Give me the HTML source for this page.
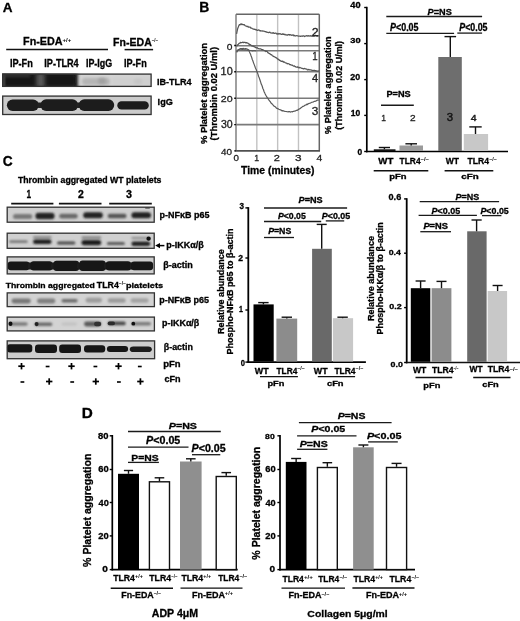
<!DOCTYPE html>
<html><head><meta charset="utf-8"><style>
html,body{margin:0;padding:0;background:#fff;}
svg{display:block;will-change:transform;}
text{font-family:"Liberation Sans", sans-serif;}
</style></head><body>
<svg width="520" height="621" viewBox="0 0 520 621">
<defs><filter id="f5" x="-50%" y="-100%" width="200%" height="300%"><feGaussianBlur stdDeviation="0.5"/></filter><filter id="f6" x="-50%" y="-100%" width="200%" height="300%"><feGaussianBlur stdDeviation="0.6"/></filter><filter id="f7" x="-50%" y="-100%" width="200%" height="300%"><feGaussianBlur stdDeviation="0.7"/></filter><filter id="f8" x="-50%" y="-100%" width="200%" height="300%"><feGaussianBlur stdDeviation="0.8"/></filter><filter id="f10" x="-50%" y="-100%" width="200%" height="300%"><feGaussianBlur stdDeviation="1.0"/></filter><filter id="f12" x="-50%" y="-100%" width="200%" height="300%"><feGaussianBlur stdDeviation="1.2"/></filter><filter id="f13" x="-50%" y="-100%" width="200%" height="300%"><feGaussianBlur stdDeviation="1.3"/></filter><filter id="f15" x="-50%" y="-100%" width="200%" height="300%"><feGaussianBlur stdDeviation="1.5"/></filter><filter id="f20" x="-50%" y="-100%" width="200%" height="300%"><feGaussianBlur stdDeviation="2.0"/></filter><clipPath id="c0"><rect x="2.10" y="73.50" width="149.60" height="13.50"/></clipPath><clipPath id="c1"><rect x="2.10" y="95.50" width="149.60" height="19.60"/></clipPath><clipPath id="c2"><rect x="6.60" y="206.60" width="148.20" height="16.20"/></clipPath><clipPath id="c3"><rect x="6.60" y="232.60" width="148.20" height="16.30"/></clipPath><clipPath id="c4"><rect x="6.60" y="256.30" width="148.20" height="18.20"/></clipPath><clipPath id="c5"><rect x="6.60" y="292.30" width="148.40" height="14.90"/></clipPath><clipPath id="c6"><rect x="6.60" y="316.50" width="148.40" height="15.00"/></clipPath><clipPath id="c7"><rect x="6.60" y="340.30" width="148.60" height="19.00"/></clipPath></defs>
<rect width="520" height="621" fill="#fff"/>
<g clip-path="url(#c0)">
<rect x="2.10" y="73.50" width="149.60" height="13.50" fill="#d4d4d4"/>
<rect x="0" y="72" width="78" height="17" fill="#222" filter="url(#f15)"/>
<rect x="3.00" y="75.00" width="34.50" height="10.80" rx="2.00" ry="2.00" fill="#121212" filter="url(#f12)"/>
<rect x="43.50" y="75.00" width="31.50" height="10.80" rx="3.00" ry="3.00" fill="#141414" filter="url(#f12)"/>
<rect x="36.50" y="73.00" width="8.00" height="15.00" rx="0.00" ry="0.00" fill="#585858" filter="url(#f20)"/>
<rect x="2.00" y="73.00" width="3.00" height="15.00" rx="0.00" ry="0.00" fill="#4a4a4a" filter="url(#f10)"/>
<rect x="3.00" y="74.00" width="27.00" height="3.00" rx="0.00" ry="0.00" fill="#333" filter="url(#f15)"/>
<rect x="82.00" y="78.00" width="28.00" height="7.00" rx="3.00" ry="3.00" fill="#b4b4b4" filter="url(#f15)"/>
<rect x="98.00" y="78.00" width="8.00" height="6.00" rx="3.00" ry="3.00" fill="#a0a0a0" filter="url(#f15)"/>
<rect x="112.00" y="77.00" width="40.00" height="9.00" rx="3.00" ry="3.00" fill="#cfcfcf" filter="url(#f15)"/>
<rect x="134.00" y="79.00" width="8.00" height="5.00" rx="2.00" ry="2.00" fill="#c4c4c4" filter="url(#f15)"/>
</g>
<rect x="2.70" y="74.10" width="148.40" height="12.30" fill="none" stroke="#333" stroke-width="1.3"/>
<g clip-path="url(#c1)">
<rect x="2.10" y="95.50" width="149.60" height="19.60" fill="#cbcbcb"/>
<rect x="6.90" y="99.60" width="31.90" height="11.30" rx="5.65" ry="5.65" fill="#1a1a1a" filter="url(#f5)"/>
<rect x="37.50" y="102.50" width="4.50" height="5.50" rx="1.00" ry="1.00" fill="#242424" filter="url(#f6)"/>
<rect x="40.40" y="99.30" width="37.80" height="11.60" rx="5.80" ry="5.80" fill="#1a1a1a" filter="url(#f5)"/>
<rect x="76.50" y="102.50" width="4.00" height="5.50" rx="1.00" ry="1.00" fill="#242424" filter="url(#f6)"/>
<rect x="78.60" y="99.30" width="35.60" height="11.60" rx="5.80" ry="5.80" fill="#1a1a1a" filter="url(#f5)"/>
<rect x="117.30" y="101.20" width="31.50" height="8.40" rx="4.20" ry="4.20" fill="#1a1a1a" filter="url(#f5)"/>
</g>
<rect x="2.70" y="96.10" width="148.40" height="18.40" fill="none" stroke="#333" stroke-width="1.3"/>
<g clip-path="url(#c2)">
<rect x="6.60" y="206.60" width="148.20" height="16.20" fill="#cfcfcf"/>
<rect x="13.00" y="214.00" width="19.30" height="5.00" rx="2.50" ry="2.50" fill="#787878" filter="url(#f10)"/>
<rect x="35.40" y="212.80" width="19.20" height="6.50" rx="3.25" ry="3.25" fill="#202020" filter="url(#f10)"/>
<rect x="59.20" y="213.80" width="18.50" height="4.80" rx="2.40" ry="2.40" fill="#686868" filter="url(#f10)"/>
<rect x="83.20" y="212.30" width="19.60" height="5.90" rx="2.95" ry="2.95" fill="#222" filter="url(#f10)"/>
<rect x="107.70" y="213.80" width="18.80" height="4.40" rx="2.20" ry="2.20" fill="#555" filter="url(#f10)"/>
<rect x="131.40" y="212.30" width="19.60" height="5.90" rx="2.95" ry="2.95" fill="#222" filter="url(#f10)"/>
<rect x="145.00" y="207.00" width="5.00" height="2.00" rx="1.00" ry="1.00" fill="#777" filter="url(#f6)"/>
</g>
<rect x="7.20" y="207.20" width="147.00" height="15.00" fill="none" stroke="#333" stroke-width="1.3"/>
<g clip-path="url(#c3)">
<rect x="6.60" y="232.60" width="148.20" height="16.30" fill="#d0d0d0"/>
<rect x="9.20" y="240.30" width="18.50" height="2.70" rx="1.35" ry="1.35" fill="#7a7a7a" filter="url(#f8)"/>
<rect x="33.00" y="236.00" width="18.50" height="2.40" rx="1.20" ry="1.20" fill="#8a8a8a" filter="url(#f8)"/>
<rect x="33.00" y="239.60" width="18.50" height="4.40" rx="2.20" ry="2.20" fill="#1c1c1c" filter="url(#f8)"/>
<rect x="57.00" y="241.40" width="18.40" height="3.20" rx="1.60" ry="1.60" fill="#484848" filter="url(#f8)"/>
<rect x="81.50" y="236.50" width="19.70" height="2.30" rx="1.15" ry="1.15" fill="#7a7a7a" filter="url(#f8)"/>
<rect x="81.50" y="240.00" width="19.70" height="5.20" rx="2.60" ry="2.60" fill="#1c1c1c" filter="url(#f8)"/>
<rect x="106.90" y="242.00" width="18.00" height="3.00" rx="1.50" ry="1.50" fill="#5a5a5a" filter="url(#f8)"/>
<rect x="131.40" y="237.00" width="18.80" height="2.00" rx="1.00" ry="1.00" fill="#8a8a8a" filter="url(#f8)"/>
<rect x="131.40" y="241.60" width="18.80" height="4.40" rx="2.20" ry="2.20" fill="#222" filter="url(#f8)"/>
<rect x="146.40" y="236.60" width="4.40" height="4.20" rx="2.10" ry="2.10" fill="#111" filter="url(#f5)"/>
</g>
<rect x="7.20" y="233.20" width="147.00" height="15.10" fill="none" stroke="#333" stroke-width="1.3"/>
<g clip-path="url(#c4)">
<rect x="6.60" y="256.30" width="148.20" height="18.20" fill="#cdcdcd"/>
<rect x="7.70" y="261.50" width="21.80" height="8.70" rx="3.00" ry="3.00" fill="#141414" filter="url(#f6)"/>
<rect x="28.00" y="262.50" width="4.00" height="7.00" rx="1.00" ry="1.00" fill="#1a1a1a" filter="url(#f6)"/>
<rect x="30.50" y="261.30" width="22.00" height="9.20" rx="3.00" ry="3.00" fill="#141414" filter="url(#f6)"/>
<rect x="51.00" y="262.50" width="4.00" height="7.00" rx="1.00" ry="1.00" fill="#1a1a1a" filter="url(#f6)"/>
<rect x="53.50" y="260.80" width="25.50" height="10.20" rx="3.00" ry="3.00" fill="#141414" filter="url(#f6)"/>
<rect x="77.00" y="262.50" width="4.00" height="7.00" rx="1.00" ry="1.00" fill="#1a1a1a" filter="url(#f6)"/>
<rect x="79.50" y="260.60" width="26.00" height="10.40" rx="3.00" ry="3.00" fill="#141414" filter="url(#f6)"/>
<rect x="104.00" y="262.50" width="4.00" height="7.00" rx="1.00" ry="1.00" fill="#1a1a1a" filter="url(#f6)"/>
<rect x="106.00" y="261.30" width="25.00" height="9.20" rx="3.00" ry="3.00" fill="#141414" filter="url(#f6)"/>
<rect x="129.50" y="262.50" width="3.50" height="7.00" rx="1.00" ry="1.00" fill="#1a1a1a" filter="url(#f6)"/>
<rect x="131.00" y="261.50" width="22.10" height="8.70" rx="3.00" ry="3.00" fill="#161616" filter="url(#f6)"/>
</g>
<rect x="7.20" y="256.90" width="147.00" height="17.00" fill="none" stroke="#333" stroke-width="1.3"/>
<g clip-path="url(#c5)">
<rect x="6.60" y="292.30" width="148.40" height="14.90" fill="#d3d3d3"/>
<rect x="11.50" y="298.50" width="19.30" height="4.90" rx="2.45" ry="2.45" fill="#777" filter="url(#f10)"/>
<rect x="37.00" y="298.50" width="18.40" height="4.90" rx="2.45" ry="2.45" fill="#7e7e7e" filter="url(#f10)"/>
<rect x="61.50" y="299.00" width="16.20" height="3.40" rx="1.70" ry="1.70" fill="#6a6a6a" filter="url(#f10)"/>
<rect x="85.60" y="297.80" width="16.40" height="4.90" rx="2.45" ry="2.45" fill="#9c9c9c" filter="url(#f10)"/>
<rect x="107.70" y="298.20" width="18.00" height="4.50" rx="2.25" ry="2.25" fill="#9a9a9a" filter="url(#f10)"/>
<rect x="130.60" y="298.20" width="18.00" height="4.50" rx="2.25" ry="2.25" fill="#a2a2a2" filter="url(#f10)"/>
</g>
<rect x="7.20" y="292.90" width="147.20" height="13.70" fill="none" stroke="#333" stroke-width="1.3"/>
<g clip-path="url(#c6)">
<rect x="6.60" y="316.50" width="148.40" height="15.00" fill="#d3d3d3"/>
<rect x="8.50" y="322.20" width="19.20" height="3.50" rx="1.75" ry="1.75" fill="#7a7a7a" filter="url(#f8)"/>
<rect x="8.50" y="321.60" width="4.00" height="4.40" rx="2.20" ry="2.20" fill="#111" filter="url(#f5)"/>
<rect x="34.60" y="322.50" width="17.70" height="3.50" rx="1.75" ry="1.75" fill="#6a6a6a" filter="url(#f8)"/>
<rect x="34.60" y="322.00" width="4.00" height="4.20" rx="2.10" ry="2.10" fill="#222" filter="url(#f5)"/>
<rect x="61.50" y="322.50" width="15.50" height="3.00" rx="1.50" ry="1.50" fill="#c2c2c2" filter="url(#f8)"/>
<rect x="84.00" y="321.50" width="17.20" height="4.90" rx="2.45" ry="2.45" fill="#5a5a5a" filter="url(#f8)"/>
<rect x="94.00" y="321.80" width="7.20" height="4.40" rx="2.20" ry="2.20" fill="#333" filter="url(#f6)"/>
<rect x="107.70" y="321.50" width="18.00" height="3.80" rx="1.90" ry="1.90" fill="#4a4a4a" filter="url(#f8)"/>
<rect x="107.70" y="321.60" width="7.30" height="3.60" rx="1.80" ry="1.80" fill="#2a2a2a" filter="url(#f6)"/>
<rect x="131.40" y="322.00" width="19.60" height="3.50" rx="1.75" ry="1.75" fill="#7a7a7a" filter="url(#f8)"/>
<rect x="131.40" y="321.80" width="3.80" height="3.80" rx="1.90" ry="1.90" fill="#111" filter="url(#f5)"/>
</g>
<rect x="7.20" y="317.10" width="147.20" height="13.80" fill="none" stroke="#333" stroke-width="1.3"/>
<g clip-path="url(#c7)">
<rect x="6.60" y="340.30" width="148.60" height="19.00" fill="#cdcdcd"/>
<rect x="6.90" y="344.20" width="25.40" height="8.40" rx="3.00" ry="3.00" fill="#151515" filter="url(#f6)"/>
<rect x="35.00" y="344.60" width="22.00" height="8.40" rx="3.00" ry="3.00" fill="#151515" filter="url(#f6)"/>
<rect x="59.20" y="344.60" width="21.80" height="8.40" rx="3.00" ry="3.00" fill="#151515" filter="url(#f6)"/>
<rect x="84.00" y="345.20" width="21.20" height="7.40" rx="3.00" ry="3.00" fill="#151515" filter="url(#f6)"/>
<rect x="106.90" y="346.00" width="21.20" height="6.10" rx="3.00" ry="3.00" fill="#181818" filter="url(#f6)"/>
<rect x="129.80" y="346.50" width="22.00" height="5.60" rx="3.50" ry="2.80" fill="#1c1c1c" filter="url(#f6)"/>
</g>
<rect x="7.20" y="340.90" width="147.40" height="17.80" fill="none" stroke="#333" stroke-width="1.3"/>
<text x="2.66" y="11.80" font-size="13.623" font-weight="bold" fill="#000" stroke="#000" stroke-width="0.3" textLength="9.81" lengthAdjust="spacingAndGlyphs">A</text>
<text x="23.10" y="44.60" font-size="11.159" font-weight="bold" fill="#000" stroke="#000" stroke-width="0.3" textLength="39.48" lengthAdjust="spacingAndGlyphs">Fn-EDA</text>
<text x="62.56" y="41.98" font-size="6.000" font-weight="bold" fill="#000" textLength="8.79" lengthAdjust="spacingAndGlyphs">+/+</text>
<text x="113.11" y="46.10" font-size="10.725" font-weight="bold" fill="#000" stroke="#000" stroke-width="0.3" textLength="38.66" lengthAdjust="spacingAndGlyphs">Fn-EDA</text>
<text x="151.87" y="41.68" font-size="6.000" font-weight="bold" fill="#000" textLength="6.17" lengthAdjust="spacingAndGlyphs">–/–</text>
<line x1="6.20" y1="49.60" x2="108.00" y2="49.60" stroke="#111" stroke-width="1.5"/>
<line x1="124.60" y1="49.60" x2="153.10" y2="49.60" stroke="#111" stroke-width="1.5"/>
<text x="9.90" y="66.60" font-size="10.290" font-weight="bold" fill="#000" stroke="#000" stroke-width="0.3" textLength="22.94" lengthAdjust="spacingAndGlyphs">IP-Fn</text>
<text x="44.31" y="66.60" font-size="10.290" font-weight="bold" fill="#000" stroke="#000" stroke-width="0.3" textLength="34.36" lengthAdjust="spacingAndGlyphs">IP-TLR4</text>
<text x="85.92" y="66.60" font-size="10.143" font-weight="bold" fill="#000" stroke="#000" stroke-width="0.3" textLength="26.15" lengthAdjust="spacingAndGlyphs">IP-IgG</text>
<text x="124.01" y="66.60" font-size="10.290" font-weight="bold" fill="#000" stroke="#000" stroke-width="0.3" textLength="22.73" lengthAdjust="spacingAndGlyphs">IP-Fn</text>
<text x="156.91" y="84.90" font-size="9.710" font-weight="bold" fill="#000" stroke="#000" stroke-width="0.3" textLength="34.66" lengthAdjust="spacingAndGlyphs">IB-TLR4</text>
<text x="157.60" y="105.10" font-size="9.571" font-weight="bold" fill="#000" stroke="#000" stroke-width="0.3" textLength="15.26" lengthAdjust="spacingAndGlyphs">IgG</text>
<text x="199.39" y="11.80" font-size="13.913" font-weight="bold" fill="#000" stroke="#000" stroke-width="0.3" textLength="10.06" lengthAdjust="spacingAndGlyphs">B</text>
<line x1="256.82" y1="14.50" x2="256.82" y2="150.50" stroke="#c2c2c2" stroke-width="1.4"/>
<line x1="277.65" y1="14.50" x2="277.65" y2="150.50" stroke="#c2c2c2" stroke-width="1.4"/>
<line x1="298.48" y1="14.50" x2="298.48" y2="150.50" stroke="#c2c2c2" stroke-width="1.4"/>
<line x1="236.00" y1="45.70" x2="319.30" y2="45.70" stroke="#7a7a7a" stroke-width="1.6"/>
<line x1="236.00" y1="50.80" x2="319.30" y2="50.80" stroke="#7a7a7a" stroke-width="1.6"/>
<line x1="236.00" y1="71.80" x2="319.30" y2="71.80" stroke="#7a7a7a" stroke-width="1.6"/>
<line x1="236.00" y1="98.20" x2="319.30" y2="98.20" stroke="#7a7a7a" stroke-width="1.6"/>
<line x1="236.00" y1="124.60" x2="319.30" y2="124.60" stroke="#7a7a7a" stroke-width="1.6"/>
<line x1="236.00" y1="14.20" x2="319.30" y2="14.20" stroke="#666" stroke-width="1.5"/>
<line x1="319.30" y1="14.20" x2="319.30" y2="151.00" stroke="#666" stroke-width="1.5"/>
<line x1="236.00" y1="14.20" x2="236.00" y2="151.00" stroke="#777" stroke-width="1.4"/>
<line x1="235.30" y1="150.90" x2="320.00" y2="150.90" stroke="#505050" stroke-width="1.9"/>
<line x1="234.20" y1="45.50" x2="236.00" y2="45.50" stroke="#111" stroke-width="1.4"/>
<line x1="234.20" y1="71.70" x2="236.00" y2="71.70" stroke="#111" stroke-width="1.4"/>
<line x1="234.20" y1="98.20" x2="236.00" y2="98.20" stroke="#111" stroke-width="1.4"/>
<line x1="234.20" y1="124.60" x2="236.00" y2="124.60" stroke="#111" stroke-width="1.4"/>
<line x1="234.20" y1="150.90" x2="236.00" y2="150.90" stroke="#111" stroke-width="1.4"/>
<text x="226.79" y="50.40" font-size="9.714" font-weight="normal" fill="#222" stroke="#222" stroke-width="0.3" textLength="5.68" lengthAdjust="spacingAndGlyphs">0</text>
<text x="220.58" y="74.90" font-size="10.429" font-weight="normal" fill="#222" stroke="#222" stroke-width="0.3" textLength="12.12" lengthAdjust="spacingAndGlyphs">10</text>
<text x="220.87" y="102.20" font-size="9.857" font-weight="normal" fill="#222" stroke="#222" stroke-width="0.3" textLength="11.83" lengthAdjust="spacingAndGlyphs">20</text>
<text x="220.98" y="128.40" font-size="10.000" font-weight="normal" fill="#222" stroke="#222" stroke-width="0.3" textLength="11.71" lengthAdjust="spacingAndGlyphs">30</text>
<text x="221.00" y="155.20" font-size="9.714" font-weight="normal" fill="#222" stroke="#222" stroke-width="0.3" textLength="10.97" lengthAdjust="spacingAndGlyphs">40</text>
<text x="233.61" y="161.20" font-size="9.429" font-weight="normal" fill="#222" stroke="#222" stroke-width="0.3" textLength="5.45" lengthAdjust="spacingAndGlyphs">0</text>
<text x="254.14" y="161.20" font-size="9.565" font-weight="normal" fill="#222" stroke="#222" stroke-width="0.3" textLength="4.86" lengthAdjust="spacingAndGlyphs">1</text>
<text x="273.85" y="161.20" font-size="9.429" font-weight="normal" fill="#222" stroke="#222" stroke-width="0.3" textLength="6.11" lengthAdjust="spacingAndGlyphs">2</text>
<text x="295.13" y="161.20" font-size="9.429" font-weight="normal" fill="#222" stroke="#222" stroke-width="0.3" textLength="6.56" lengthAdjust="spacingAndGlyphs">3</text>
<text x="316.49" y="161.20" font-size="9.565" font-weight="normal" fill="#222" stroke="#222" stroke-width="0.3" textLength="5.73" lengthAdjust="spacingAndGlyphs">4</text>
<text x="241.10" y="174.40" font-size="10.759" font-weight="bold" fill="#000" stroke="#000" stroke-width="0.3" textLength="73.41" lengthAdjust="spacingAndGlyphs">Time (minutes)</text>
<text transform="translate(207.04,0) rotate(-90)" x="-144.14" y="0" font-size="8.877" font-weight="bold" fill="#000" stroke="#000" stroke-width="0.3" textLength="101.20" lengthAdjust="spacingAndGlyphs">% Platelet aggregation</text>
<text transform="translate(217.20,0) rotate(-90)" x="-140.47" y="0" font-size="9.519" font-weight="bold" fill="#000" stroke="#000" stroke-width="0.3" textLength="93.54" lengthAdjust="spacingAndGlyphs">(Thrombin 0.02 U/ml)</text>
<path d="M236.60,33.76 L237.01,31.75 L237.60,28.88 L238.01,27.77 L238.46,26.64 L239.00,25.21 L239.49,24.63 L240.04,24.97 L240.62,24.16 L241.20,23.96 L241.74,24.59 L242.27,24.18 L242.84,24.67 L243.50,24.58 L243.94,24.91 L244.34,24.69 L244.77,25.37 L245.31,25.88 L246.03,25.91 L247.00,26.52 L247.44,26.63 L247.93,26.28 L248.46,27.11 L249.02,27.18 L249.61,27.16 L250.23,27.15 L250.87,28.15 L251.53,28.05 L252.21,28.52 L252.89,28.92 L253.58,29.01 L254.28,29.44 L254.97,29.20 L255.66,29.78 L256.34,29.66 L257.00,30.29 L257.62,30.40 L258.25,29.86 L258.89,30.04 L259.54,30.25 L260.19,31.06 L260.85,30.71 L261.51,31.01 L262.17,30.83 L262.83,31.13 L263.49,31.14 L264.15,31.21 L264.81,31.53 L265.46,31.64 L266.11,32.04 L266.75,31.94 L267.38,32.28 L268.00,32.32 L268.65,32.56 L269.28,32.39 L269.91,32.05 L270.52,32.79 L271.13,32.99 L271.74,33.05 L272.34,32.86 L272.94,33.09 L273.54,32.75 L274.15,33.41 L274.76,33.28 L275.38,33.12 L276.02,33.02 L276.66,33.83 L277.32,34.05 L278.00,33.33 L278.59,34.05 L279.19,33.77 L279.80,33.62 L280.43,33.82 L281.07,34.32 L281.71,34.49 L282.36,33.81 L283.01,34.39 L283.67,33.95 L284.33,34.62 L284.99,34.34 L285.64,34.90 L286.29,35.06 L286.93,34.69 L287.57,35.20 L288.20,34.64 L288.81,34.50 L289.41,35.03 L290.00,34.58 L290.68,34.80 L291.35,35.06 L292.00,35.32 L292.64,34.99 L293.27,34.96 L293.90,35.77 L294.51,35.34 L295.12,35.99 L295.73,36.00 L296.34,35.60 L296.94,35.74 L297.55,35.85 L298.15,36.01 L298.76,36.01 L299.38,36.02 L300.00,36.11 L300.63,36.42 L301.26,36.06 L301.89,36.00 L302.52,36.27 L303.16,35.84 L303.79,35.90 L304.43,36.51 L305.06,36.09 L305.69,36.11 L306.32,35.62 L306.95,35.97 L307.57,36.11 L308.19,35.59 L308.80,36.12 L309.40,36.13 L310.00,35.60 L310.69,36.11 L311.42,35.95 L312.16,36.13 L312.91,35.82 L313.66,36.12 L314.40,36.13 L315.12,35.47 L315.83,35.49 L316.49,36.02 L317.11,36.27 L317.68,35.61 L318.20,35.78 L318.64,35.89 L319.00,35.80" fill="none" stroke="#555" stroke-width="1.25" stroke-linejoin="round"/>
<path d="M236.60,46.36 L236.94,45.89 L237.44,45.13 L238.00,44.50 L238.43,44.23 L238.90,43.56 L239.42,43.22 L240.00,43.22 L240.54,42.42 L241.13,42.70 L241.75,42.71 L242.38,42.29 L243.00,42.18 L243.61,42.65 L244.22,42.26 L244.84,42.31 L245.43,42.63 L246.00,42.96 L246.66,42.63 L247.28,42.98 L247.89,43.19 L248.50,43.87 L249.04,43.89 L249.53,44.62 L250.13,44.53 L251.00,45.17 L251.44,45.64 L251.92,46.05 L252.43,45.94 L252.98,46.01 L253.56,46.18 L254.18,46.77 L254.83,46.77 L255.52,47.55 L256.24,47.87 L257.00,47.65 L257.53,47.93 L258.10,48.56 L258.70,48.64 L259.32,48.98 L259.96,48.83 L260.62,48.88 L261.28,49.24 L261.96,49.87 L262.63,49.69 L263.31,50.00 L263.98,50.31 L264.63,50.58 L265.28,50.84 L265.90,51.54 L266.50,51.22 L267.18,51.47 L267.85,52.62 L268.52,52.99 L269.18,53.51 L269.84,53.52 L270.49,54.40 L271.12,54.84 L271.74,54.74 L272.35,55.60 L272.94,56.11 L273.52,56.39 L274.07,56.66 L274.60,56.83 L275.31,57.34 L275.97,57.67 L276.57,57.94 L277.14,58.72 L277.69,58.82 L278.24,59.57 L278.80,59.29 L279.38,60.29 L280.00,60.45 L280.56,60.93 L281.10,61.17 L281.63,61.43 L282.17,61.41 L282.72,61.20 L283.30,62.04 L283.93,61.84 L284.61,62.21 L285.36,62.80 L286.20,63.02 L286.71,63.13 L287.25,63.76 L287.82,63.72 L288.42,63.74 L289.04,63.91 L289.69,64.64 L290.34,64.59 L291.01,65.09 L291.69,65.00 L292.38,65.13 L293.07,65.66 L293.76,66.13 L294.44,65.86 L295.12,66.59 L295.79,66.92 L296.45,67.05 L297.08,67.27 L297.70,66.81 L298.38,67.50 L299.04,67.88 L299.70,67.41 L300.34,67.76 L300.98,67.92 L301.62,68.28 L302.25,68.35 L302.88,68.53 L303.51,68.92 L304.14,68.43 L304.77,68.61 L305.40,68.79 L306.04,68.92 L306.69,69.00 L307.34,69.85 L308.00,69.88 L308.65,69.39 L309.33,69.84 L310.04,69.82 L310.77,69.94 L311.52,70.08 L312.27,70.44 L313.03,70.50 L313.78,70.43 L314.51,70.41 L315.22,70.62 L315.90,70.55 L316.55,70.99 L317.15,71.20 L317.71,71.01 L318.21,70.85 L318.64,70.99 L319.00,71.30" fill="none" stroke="#555" stroke-width="1.25" stroke-linejoin="round"/>
<path d="M236.60,52.41 L236.90,51.88 L237.36,51.04 L238.00,49.92 L238.48,49.83 L239.04,49.37 L239.65,48.94 L240.31,48.67 L241.00,48.60 L241.52,48.68 L242.08,48.46 L242.67,48.66 L243.26,48.53 L243.86,48.44 L244.44,48.73 L245.00,48.94 L245.62,48.55 L246.23,48.78 L246.83,48.80 L247.41,49.25 L248.00,49.64 L248.60,49.91 L249.21,51.34 L249.82,52.66 L250.44,53.90 L251.04,55.75 L251.63,57.20 L252.20,59.22 L252.84,60.80 L253.45,62.60 L254.04,64.15 L254.62,65.65 L255.20,67.26 L255.77,68.66 L256.32,69.78 L256.86,71.57 L257.42,72.65 L258.00,74.35 L258.61,76.53 L259.24,77.86 L259.89,79.79 L260.54,81.68 L261.20,84.07 L261.75,85.08 L262.30,86.47 L262.86,88.53 L263.42,89.49 L264.00,91.40 L264.60,92.62 L265.20,93.99 L265.80,95.26 L266.42,96.14 L267.06,97.40 L267.75,97.96 L268.50,99.59 L269.04,100.17 L269.61,101.10 L270.21,101.46 L270.83,102.69 L271.47,103.59 L272.11,103.73 L272.75,104.62 L273.38,105.44 L274.00,106.23 L274.60,106.36 L275.20,106.81 L275.79,107.31 L276.38,107.98 L276.97,108.46 L277.58,108.56 L278.20,108.88 L278.84,109.22 L279.50,109.50 L280.06,109.79 L280.64,109.78 L281.24,110.29 L281.84,110.82 L282.45,110.62 L283.07,111.03 L283.70,110.78 L284.33,111.29 L284.95,111.47 L285.58,111.52 L286.20,111.51 L286.83,111.57 L287.47,111.75 L288.13,111.99 L288.79,111.50 L289.45,111.49 L290.11,111.96 L290.75,112.07 L291.38,111.77 L291.98,111.68 L292.56,111.82 L293.10,111.38 L293.86,111.30 L294.53,111.07 L295.14,111.13 L295.73,110.68 L296.33,110.33 L296.97,110.31 L297.70,110.12 L298.26,109.35 L298.86,109.30 L299.47,108.72 L300.11,108.63 L300.76,108.03 L301.42,107.40 L302.08,106.95 L302.73,106.41 L303.37,106.34 L304.00,105.92 L304.60,105.44 L305.17,105.25 L305.73,104.92 L306.28,104.94 L306.83,104.21 L307.40,104.52 L307.99,103.88 L308.61,103.67 L309.28,103.28 L310.00,103.23 L310.57,103.00 L311.21,102.57 L311.89,102.26 L312.62,102.16 L313.36,101.99 L314.12,101.40 L314.88,101.38 L315.62,101.28 L316.33,100.69 L317.00,100.30 L317.61,100.09 L318.16,100.24 L318.63,100.05 L319.00,99.80" fill="none" stroke="#5a5a5a" stroke-width="1.2" stroke-linejoin="round"/>
<path d="M236.60,51.73 L237.02,51.34 L237.61,50.53 L238.30,50.00 L239.00,49.68 L239.55,49.50 L240.11,49.69 L240.70,49.74 L241.33,49.78 L242.00,49.48 L242.52,49.81 L243.07,49.57 L243.64,49.69 L244.23,49.90 L244.83,49.65 L245.42,49.73 L246.00,50.17 L246.55,49.96 L247.08,50.07 L247.61,50.26 L248.15,50.38 L248.71,50.12 L249.32,50.36 L250.00,50.47 L250.55,50.53 L251.17,50.43 L251.84,50.66 L252.54,50.88 L253.25,50.63 L253.94,50.73 L254.58,50.55 L255.15,50.65 L255.63,50.87 L256.00,50.80" fill="none" stroke="#5a5a5a" stroke-width="1.1" stroke-linejoin="round"/>
<text x="311.68" y="36.10" font-size="11.571" font-weight="normal" fill="#222" stroke="#222" stroke-width="0.3" textLength="6.85" lengthAdjust="spacingAndGlyphs">2</text>
<text x="312.18" y="60.40" font-size="10.580" font-weight="normal" fill="#222" stroke="#222" stroke-width="0.3" textLength="5.37" lengthAdjust="spacingAndGlyphs">1</text>
<text x="312.08" y="82.30" font-size="10.000" font-weight="normal" fill="#222" stroke="#222" stroke-width="0.3" textLength="6.17" lengthAdjust="spacingAndGlyphs">4</text>
<text x="311.83" y="114.50" font-size="10.571" font-weight="normal" fill="#222" stroke="#222" stroke-width="0.3" textLength="6.56" lengthAdjust="spacingAndGlyphs">3</text>
<line x1="366.80" y1="6.80" x2="366.80" y2="152.30" stroke="#000" stroke-width="1.7"/>
<line x1="366.00" y1="151.50" x2="508.00" y2="151.50" stroke="#000" stroke-width="1.7"/>
<line x1="364.20" y1="7.50" x2="366.80" y2="7.50" stroke="#000" stroke-width="1.4"/>
<line x1="364.20" y1="43.60" x2="366.80" y2="43.60" stroke="#000" stroke-width="1.4"/>
<line x1="364.20" y1="79.60" x2="366.80" y2="79.60" stroke="#000" stroke-width="1.4"/>
<line x1="364.20" y1="115.40" x2="366.80" y2="115.40" stroke="#000" stroke-width="1.4"/>
<line x1="364.20" y1="151.50" x2="366.80" y2="151.50" stroke="#000" stroke-width="1.4"/>
<text x="350.36" y="8.10" font-size="8.286" font-weight="bold" fill="#000" stroke="#000" stroke-width="0.3" textLength="10.23" lengthAdjust="spacingAndGlyphs">40</text>
<text x="350.27" y="42.90" font-size="7.857" font-weight="bold" fill="#000" stroke="#000" stroke-width="0.3" textLength="10.33" lengthAdjust="spacingAndGlyphs">30</text>
<text x="350.39" y="80.00" font-size="8.714" font-weight="bold" fill="#000" stroke="#000" stroke-width="0.3" textLength="9.89" lengthAdjust="spacingAndGlyphs">20</text>
<text x="350.79" y="115.60" font-size="8.857" font-weight="bold" fill="#000" stroke="#000" stroke-width="0.3" textLength="9.47" lengthAdjust="spacingAndGlyphs">10</text>
<text x="357.56" y="154.60" font-size="8.714" font-weight="bold" fill="#000" stroke="#000" stroke-width="0.3" textLength="4.68" lengthAdjust="spacingAndGlyphs">0</text>
<text transform="translate(331.17,0) rotate(-90)" x="-133.93" y="0" font-size="9.198" font-weight="bold" fill="#000" stroke="#000" stroke-width="0.3" textLength="97.57" lengthAdjust="spacingAndGlyphs">% Platelet aggregation</text>
<text transform="translate(341.58,0) rotate(-90)" x="-129.65" y="0" font-size="9.626" font-weight="bold" fill="#000" stroke="#000" stroke-width="0.3" textLength="88.70" lengthAdjust="spacingAndGlyphs">(Thrombin 0.02 U/ml)</text>
<rect x="373.80" y="149.30" width="21.70" height="1.70" fill="#111"/>
<rect x="399.50" y="145.50" width="23.50" height="5.50" fill="#9a9a9a"/>
<rect x="438.30" y="57.00" width="23.50" height="94.00" fill="#6e6e6e"/>
<rect x="463.80" y="134.00" width="24.30" height="17.00" fill="#c8c8c8"/>
<line x1="384.40" y1="149.30" x2="384.40" y2="147.50" stroke="#111" stroke-width="1.4"/>
<line x1="378.80" y1="147.50" x2="390.00" y2="147.50" stroke="#111" stroke-width="1.4"/>
<line x1="411.20" y1="145.50" x2="411.20" y2="143.80" stroke="#111" stroke-width="1.4"/>
<line x1="405.40" y1="143.80" x2="417.00" y2="143.80" stroke="#111" stroke-width="1.4"/>
<line x1="450.30" y1="57.00" x2="450.30" y2="36.60" stroke="#111" stroke-width="1.4"/>
<line x1="444.50" y1="36.60" x2="456.10" y2="36.60" stroke="#111" stroke-width="1.4"/>
<line x1="475.50" y1="134.00" x2="475.50" y2="126.90" stroke="#111" stroke-width="1.4"/>
<line x1="469.30" y1="126.90" x2="481.70" y2="126.90" stroke="#111" stroke-width="1.4"/>
<line x1="386.30" y1="16.50" x2="482.10" y2="16.50" stroke="#1a1a1a" stroke-width="1.3"/>
<text x="427.60" y="14.80" font-size="9.571" font-weight="bold" fill="#000" stroke="#000" stroke-width="0.3" textLength="24.22" lengthAdjust="spacingAndGlyphs"><tspan font-style="italic">P</tspan>=NS</text>
<line x1="386.30" y1="33.30" x2="454.10" y2="33.30" stroke="#1a1a1a" stroke-width="1.3"/>
<text x="390.02" y="30.90" font-size="10.286" font-weight="bold" fill="#000" stroke="#000" stroke-width="0.3" textLength="28.52" lengthAdjust="spacingAndGlyphs"><tspan font-style="italic">P</tspan>&lt;0.05</text>
<line x1="457.30" y1="33.10" x2="482.10" y2="33.10" stroke="#1a1a1a" stroke-width="1.3"/>
<text x="459.22" y="30.90" font-size="10.286" font-weight="bold" fill="#000" stroke="#000" stroke-width="0.3" textLength="28.32" lengthAdjust="spacingAndGlyphs"><tspan font-style="italic">P</tspan>&lt;0.05</text>
<text x="386.50" y="96.80" font-size="8.571" font-weight="bold" fill="#000" stroke="#000" stroke-width="0.3" textLength="24.22" lengthAdjust="spacingAndGlyphs">P=NS</text>
<line x1="381.00" y1="105.30" x2="413.80" y2="105.30" stroke="#1a1a1a" stroke-width="1.4"/>
<text x="381.26" y="120.80" font-size="9.275" font-weight="normal" fill="#222" stroke="#222" stroke-width="0.3" textLength="4.73" lengthAdjust="spacingAndGlyphs">1</text>
<text x="410.09" y="120.80" font-size="9.143" font-weight="normal" fill="#222" stroke="#222" stroke-width="0.3" textLength="5.62" lengthAdjust="spacingAndGlyphs">2</text>
<text x="446.65" y="120.80" font-size="11.143" font-weight="normal" fill="#141414" stroke="#141414" stroke-width="0.45" textLength="6.32" lengthAdjust="spacingAndGlyphs">3</text>
<text x="470.79" y="121.30" font-size="9.710" font-weight="normal" fill="#1a1a1a" stroke="#1a1a1a" stroke-width="0.45" textLength="5.84" lengthAdjust="spacingAndGlyphs">4</text>
<text x="378.30" y="163.50" font-size="9.130" font-weight="bold" fill="#000" stroke="#000" stroke-width="0.3" textLength="15.09" lengthAdjust="spacingAndGlyphs">WT</text>
<text x="399.62" y="163.50" font-size="9.130" font-weight="bold" fill="#000" stroke="#000" stroke-width="0.3" textLength="20.93" lengthAdjust="spacingAndGlyphs">TLR4</text>
<text x="420.62" y="161.15" font-size="5.600" font-weight="bold" fill="#000" textLength="8.36" lengthAdjust="spacingAndGlyphs">–/–</text>
<text x="445.80" y="163.50" font-size="9.130" font-weight="bold" fill="#000" stroke="#000" stroke-width="0.3" textLength="13.28" lengthAdjust="spacingAndGlyphs">WT</text>
<text x="467.61" y="163.50" font-size="9.130" font-weight="bold" fill="#000" stroke="#000" stroke-width="0.3" textLength="21.43" lengthAdjust="spacingAndGlyphs">TLR4</text>
<text x="489.14" y="161.15" font-size="5.600" font-weight="bold" fill="#000" textLength="7.53" lengthAdjust="spacingAndGlyphs">–/–</text>
<line x1="373.70" y1="170.70" x2="428.30" y2="170.70" stroke="#111" stroke-width="1.4"/>
<line x1="444.60" y1="170.70" x2="493.30" y2="170.70" stroke="#111" stroke-width="1.4"/>
<text x="389.29" y="179.10" font-size="7.536" font-weight="bold" fill="#000" stroke="#000" stroke-width="0.3" textLength="17.30" lengthAdjust="spacingAndGlyphs">pFn</text>
<text x="461.31" y="179.10" font-size="7.536" font-weight="bold" fill="#000" stroke="#000" stroke-width="0.3" textLength="17.41" lengthAdjust="spacingAndGlyphs">cFn</text>
<text x="2.65" y="165.90" font-size="14.286" font-weight="bold" fill="#000" stroke="#000" stroke-width="0.3" textLength="9.92" lengthAdjust="spacingAndGlyphs">C</text>
<text x="17.91" y="182.60" font-size="8.552" font-weight="bold" fill="#000" stroke="#000" stroke-width="0.3" textLength="143.55" lengthAdjust="spacingAndGlyphs">Thrombin aggregated WT platelets</text>
<text x="26.40" y="198.00" font-size="10.435" font-weight="bold" fill="#000" stroke="#000" stroke-width="0.3" textLength="4.62" lengthAdjust="spacingAndGlyphs">1</text>
<text x="78.14" y="198.00" font-size="10.286" font-weight="bold" fill="#000" stroke="#000" stroke-width="0.3" textLength="5.79" lengthAdjust="spacingAndGlyphs">2</text>
<text x="125.93" y="198.00" font-size="10.571" font-weight="bold" fill="#000" stroke="#000" stroke-width="0.3" textLength="5.95" lengthAdjust="spacingAndGlyphs">3</text>
<line x1="11.20" y1="203.60" x2="53.40" y2="203.60" stroke="#111" stroke-width="1.6"/>
<line x1="58.90" y1="203.60" x2="101.50" y2="203.60" stroke="#111" stroke-width="1.6"/>
<line x1="109.20" y1="203.60" x2="151.80" y2="203.60" stroke="#111" stroke-width="1.6"/>
<text x="159.62" y="218.30" font-size="9.143" font-weight="bold" fill="#000" stroke="#000" stroke-width="0.3" textLength="49.83" lengthAdjust="spacingAndGlyphs">p-NFκB p65</text>
<text x="166.32" y="247.70" font-size="8.828" font-weight="bold" fill="#000" stroke="#000" stroke-width="0.3" textLength="37.49" lengthAdjust="spacingAndGlyphs">p-IKKα/β</text>
<text x="163.37" y="268.30" font-size="8.690" font-weight="bold" fill="#000" stroke="#000" stroke-width="0.3" textLength="29.49" lengthAdjust="spacingAndGlyphs">β-actin</text>
<line x1="158.80" y1="245.60" x2="164.40" y2="245.60" stroke="#000" stroke-width="1.5"/>
<path d="M155.2,245.6 L160.0,242.9 L160.0,248.3 Z" fill="#000"/>
<text x="5.71" y="287.70" font-size="8.000" font-weight="bold" fill="#000" stroke="#000" stroke-width="0.3" textLength="89.04" lengthAdjust="spacingAndGlyphs">Thrombin aggregated</text>
<text x="96.81" y="287.70" font-size="8.406" font-weight="bold" fill="#000" stroke="#000" stroke-width="0.3" textLength="22.03" lengthAdjust="spacingAndGlyphs">TLR4</text>
<text x="118.85" y="285.38" font-size="5.400" font-weight="bold" fill="#000" textLength="7.11" lengthAdjust="spacingAndGlyphs">–/–</text>
<text x="125.90" y="287.70" font-size="8.000" font-weight="bold" fill="#000" stroke="#000" stroke-width="0.3" textLength="37.18" lengthAdjust="spacingAndGlyphs">platelets</text>
<text x="159.22" y="303.30" font-size="8.714" font-weight="bold" fill="#000" stroke="#000" stroke-width="0.3" textLength="49.83" lengthAdjust="spacingAndGlyphs">p-NFκB p65</text>
<text x="162.12" y="326.40" font-size="8.138" font-weight="bold" fill="#000" stroke="#000" stroke-width="0.3" textLength="37.18" lengthAdjust="spacingAndGlyphs">p-IKKα/β</text>
<text x="163.78" y="350.10" font-size="8.690" font-weight="bold" fill="#000" stroke="#000" stroke-width="0.3" textLength="29.08" lengthAdjust="spacingAndGlyphs">β-actin</text>
<text x="163.28" y="367.00" font-size="8.551" font-weight="bold" fill="#000" stroke="#000" stroke-width="0.3" textLength="17.41" lengthAdjust="spacingAndGlyphs">pFn</text>
<text x="164.54" y="381.70" font-size="8.261" font-weight="bold" fill="#000" stroke="#000" stroke-width="0.3" textLength="16.13" lengthAdjust="spacingAndGlyphs">cFn</text>
<rect x="18.30" y="365.35" width="6.40" height="1.70" fill="#000"/>
<rect x="20.65" y="363.00" width="1.70" height="6.40" fill="#000"/>
<rect x="68.30" y="365.35" width="6.40" height="1.70" fill="#000"/>
<rect x="70.65" y="363.00" width="1.70" height="6.40" fill="#000"/>
<rect x="115.30" y="365.35" width="6.40" height="1.70" fill="#000"/>
<rect x="117.65" y="363.00" width="1.70" height="6.40" fill="#000"/>
<rect x="45.70" y="365.70" width="3.80" height="1.60" fill="#000"/>
<rect x="93.50" y="365.70" width="3.80" height="1.60" fill="#000"/>
<rect x="137.90" y="365.70" width="3.80" height="1.60" fill="#000"/>
<rect x="20.50" y="381.20" width="3.80" height="1.60" fill="#000"/>
<rect x="70.30" y="381.20" width="3.80" height="1.60" fill="#000"/>
<rect x="117.00" y="381.20" width="3.80" height="1.60" fill="#000"/>
<rect x="46.00" y="380.65" width="6.40" height="1.70" fill="#000"/>
<rect x="48.35" y="378.30" width="1.70" height="6.40" fill="#000"/>
<rect x="92.60" y="380.65" width="6.40" height="1.70" fill="#000"/>
<rect x="94.95" y="378.30" width="1.70" height="6.40" fill="#000"/>
<rect x="137.20" y="380.65" width="6.40" height="1.70" fill="#000"/>
<rect x="139.55" y="378.30" width="1.70" height="6.40" fill="#000"/>
<line x1="248.30" y1="207.10" x2="248.30" y2="362.90" stroke="#000" stroke-width="1.8"/>
<line x1="247.40" y1="362.10" x2="365.90" y2="362.10" stroke="#000" stroke-width="1.7"/>
<line x1="245.40" y1="207.90" x2="248.00" y2="207.90" stroke="#000" stroke-width="1.4"/>
<line x1="245.40" y1="258.00" x2="248.00" y2="258.00" stroke="#000" stroke-width="1.4"/>
<line x1="245.40" y1="310.00" x2="248.00" y2="310.00" stroke="#000" stroke-width="1.4"/>
<line x1="245.40" y1="362.10" x2="248.00" y2="362.10" stroke="#000" stroke-width="1.4"/>
<text x="239.60" y="208.70" font-size="8.286" font-weight="bold" fill="#000" stroke="#000" stroke-width="0.3" textLength="4.49" lengthAdjust="spacingAndGlyphs">3</text>
<text x="238.20" y="261.40" font-size="8.286" font-weight="bold" fill="#000" stroke="#000" stroke-width="0.3" textLength="4.75" lengthAdjust="spacingAndGlyphs">2</text>
<text x="238.88" y="311.60" font-size="8.406" font-weight="bold" fill="#000" stroke="#000" stroke-width="0.3" textLength="3.91" lengthAdjust="spacingAndGlyphs">1</text>
<text x="240.80" y="365.50" font-size="8.571" font-weight="bold" fill="#000" stroke="#000" stroke-width="0.3" textLength="4.22" lengthAdjust="spacingAndGlyphs">0</text>
<text transform="translate(223.50,0) rotate(-90)" x="-333.99" y="0" font-size="9.524" font-weight="bold" fill="#000" stroke="#000" stroke-width="0.3" textLength="84.72" lengthAdjust="spacingAndGlyphs">Relative abundance</text>
<text transform="translate(232.69,0) rotate(-90)" x="-354.59" y="0" font-size="9.091" font-weight="bold" fill="#000" stroke="#000" stroke-width="0.3" textLength="126.14" lengthAdjust="spacingAndGlyphs">Phospho-NFκB p65 to β-actin</text>
<rect x="253.50" y="304.40" width="20.20" height="57.10" fill="#000"/>
<rect x="276.40" y="318.60" width="20.80" height="42.90" fill="#8c8c8c"/>
<rect x="312.10" y="248.80" width="19.70" height="112.70" fill="#696969"/>
<rect x="332.90" y="318.20" width="20.20" height="43.30" fill="#c8c8c8"/>
<line x1="263.40" y1="304.40" x2="263.40" y2="302.60" stroke="#111" stroke-width="1.4"/>
<line x1="258.20" y1="302.60" x2="268.60" y2="302.60" stroke="#111" stroke-width="1.4"/>
<line x1="286.80" y1="318.60" x2="286.80" y2="317.20" stroke="#111" stroke-width="1.4"/>
<line x1="281.60" y1="317.20" x2="292.00" y2="317.20" stroke="#111" stroke-width="1.4"/>
<line x1="321.70" y1="248.80" x2="321.70" y2="224.40" stroke="#111" stroke-width="1.4"/>
<line x1="316.70" y1="224.40" x2="326.70" y2="224.40" stroke="#111" stroke-width="1.4"/>
<line x1="342.60" y1="318.20" x2="342.60" y2="317.20" stroke="#111" stroke-width="1.4"/>
<line x1="337.40" y1="317.20" x2="347.80" y2="317.20" stroke="#111" stroke-width="1.4"/>
<line x1="264.00" y1="208.00" x2="347.10" y2="208.00" stroke="#1a1a1a" stroke-width="1.3"/>
<text x="298.61" y="202.70" font-size="9.143" font-weight="bold" fill="#000" stroke="#000" stroke-width="0.3" textLength="24.01" lengthAdjust="spacingAndGlyphs"><tspan font-style="italic">P</tspan>=NS</text>
<line x1="264.00" y1="221.50" x2="321.20" y2="221.50" stroke="#1a1a1a" stroke-width="1.3"/>
<text x="277.93" y="218.80" font-size="9.857" font-weight="bold" fill="#000" stroke="#000" stroke-width="0.3" textLength="27.91" lengthAdjust="spacingAndGlyphs"><tspan font-style="italic">P</tspan>&lt;0.05</text>
<line x1="325.80" y1="220.90" x2="344.20" y2="220.90" stroke="#1a1a1a" stroke-width="1.3"/>
<text x="321.72" y="218.80" font-size="9.286" font-weight="bold" fill="#000" stroke="#000" stroke-width="0.3" textLength="28.52" lengthAdjust="spacingAndGlyphs"><tspan font-style="italic">P</tspan>&lt;0.05</text>
<line x1="264.00" y1="237.50" x2="294.00" y2="237.50" stroke="#1a1a1a" stroke-width="1.3"/>
<text x="268.13" y="234.40" font-size="9.857" font-weight="bold" fill="#000" stroke="#000" stroke-width="0.3" textLength="23.18" lengthAdjust="spacingAndGlyphs"><tspan font-style="italic">P</tspan>=NS</text>
<text x="254.80" y="373.60" font-size="8.986" font-weight="bold" fill="#000" stroke="#000" stroke-width="0.3" textLength="13.89" lengthAdjust="spacingAndGlyphs">WT</text>
<text x="276.52" y="373.60" font-size="8.986" font-weight="bold" fill="#000" stroke="#000" stroke-width="0.3" textLength="20.72" lengthAdjust="spacingAndGlyphs">TLR4</text>
<text x="297.34" y="370.28" font-size="5.400" font-weight="bold" fill="#000" textLength="7.42" lengthAdjust="spacingAndGlyphs">–/–</text>
<text x="313.80" y="373.60" font-size="8.986" font-weight="bold" fill="#000" stroke="#000" stroke-width="0.3" textLength="13.79" lengthAdjust="spacingAndGlyphs">WT</text>
<text x="334.42" y="373.60" font-size="8.986" font-weight="bold" fill="#000" stroke="#000" stroke-width="0.3" textLength="21.13" lengthAdjust="spacingAndGlyphs">TLR4</text>
<text x="355.63" y="370.28" font-size="5.400" font-weight="bold" fill="#000" textLength="7.73" lengthAdjust="spacingAndGlyphs">–/–</text>
<line x1="260.00" y1="376.60" x2="297.90" y2="376.60" stroke="#111" stroke-width="1.4"/>
<line x1="317.80" y1="376.60" x2="355.10" y2="376.60" stroke="#111" stroke-width="1.4"/>
<text x="267.40" y="386.30" font-size="7.681" font-weight="bold" fill="#000" stroke="#000" stroke-width="0.3" textLength="16.98" lengthAdjust="spacingAndGlyphs">pFn</text>
<text x="326.93" y="386.30" font-size="7.681" font-weight="bold" fill="#000" stroke="#000" stroke-width="0.3" textLength="16.66" lengthAdjust="spacingAndGlyphs">cFn</text>
<line x1="406.70" y1="198.20" x2="406.70" y2="363.30" stroke="#000" stroke-width="1.8"/>
<line x1="406.00" y1="362.50" x2="520.00" y2="362.50" stroke="#111" stroke-width="1.6"/>
<line x1="404.10" y1="198.90" x2="406.70" y2="198.90" stroke="#000" stroke-width="1.4"/>
<line x1="404.10" y1="253.20" x2="406.70" y2="253.20" stroke="#000" stroke-width="1.4"/>
<line x1="404.10" y1="307.60" x2="406.70" y2="307.60" stroke="#000" stroke-width="1.4"/>
<line x1="404.10" y1="362.50" x2="406.70" y2="362.50" stroke="#000" stroke-width="1.4"/>
<text x="388.53" y="199.90" font-size="9.429" font-weight="bold" fill="#000" stroke="#000" stroke-width="0.3" textLength="12.69" lengthAdjust="spacingAndGlyphs">0.6</text>
<text x="388.65" y="255.40" font-size="8.000" font-weight="bold" fill="#000" stroke="#000" stroke-width="0.3" textLength="12.20" lengthAdjust="spacingAndGlyphs">0.4</text>
<text x="389.34" y="309.10" font-size="7.857" font-weight="bold" fill="#000" stroke="#000" stroke-width="0.3" textLength="12.42" lengthAdjust="spacingAndGlyphs">0.2</text>
<text x="390.55" y="366.90" font-size="7.857" font-weight="bold" fill="#000" stroke="#000" stroke-width="0.3" textLength="12.31" lengthAdjust="spacingAndGlyphs">0.0</text>
<text transform="translate(373.70,0) rotate(-90)" x="-320.99" y="0" font-size="9.524" font-weight="bold" fill="#000" stroke="#000" stroke-width="0.3" textLength="84.93" lengthAdjust="spacingAndGlyphs">Relative abundance</text>
<text transform="translate(383.07,0) rotate(-90)" x="-334.48" y="0" font-size="9.198" font-weight="bold" fill="#000" stroke="#000" stroke-width="0.3" textLength="112.14" lengthAdjust="spacingAndGlyphs">Phospho-IKKα/β to β-actin</text>
<rect x="410.80" y="288.20" width="19.50" height="73.60" fill="#000"/>
<rect x="431.60" y="288.20" width="19.80" height="73.60" fill="#8c8c8c"/>
<rect x="467.20" y="231.30" width="19.40" height="130.50" fill="#696969"/>
<rect x="487.70" y="291.00" width="19.40" height="70.80" fill="#c8c8c8"/>
<line x1="420.60" y1="288.20" x2="420.60" y2="281.00" stroke="#111" stroke-width="1.4"/>
<line x1="415.60" y1="281.00" x2="425.60" y2="281.00" stroke="#111" stroke-width="1.4"/>
<line x1="441.50" y1="288.20" x2="441.50" y2="281.40" stroke="#111" stroke-width="1.4"/>
<line x1="436.50" y1="281.40" x2="446.50" y2="281.40" stroke="#111" stroke-width="1.4"/>
<line x1="476.60" y1="231.30" x2="476.60" y2="220.00" stroke="#111" stroke-width="1.4"/>
<line x1="471.50" y1="220.00" x2="481.70" y2="220.00" stroke="#111" stroke-width="1.4"/>
<line x1="497.60" y1="291.00" x2="497.60" y2="285.50" stroke="#111" stroke-width="1.4"/>
<line x1="492.60" y1="285.50" x2="502.60" y2="285.50" stroke="#111" stroke-width="1.4"/>
<line x1="419.70" y1="201.70" x2="499.10" y2="201.70" stroke="#1a1a1a" stroke-width="1.3"/>
<text x="455.52" y="200.40" font-size="9.000" font-weight="bold" fill="#000" stroke="#000" stroke-width="0.3" textLength="23.70" lengthAdjust="spacingAndGlyphs"><tspan font-style="italic">P</tspan>=NS</text>
<line x1="418.60" y1="215.40" x2="476.90" y2="215.40" stroke="#1a1a1a" stroke-width="1.3"/>
<text x="431.52" y="213.60" font-size="9.714" font-weight="bold" fill="#000" stroke="#000" stroke-width="0.3" textLength="28.63" lengthAdjust="spacingAndGlyphs"><tspan font-style="italic">P</tspan>&lt;0.05</text>
<line x1="482.00" y1="215.60" x2="501.40" y2="215.60" stroke="#1a1a1a" stroke-width="1.3"/>
<text x="480.42" y="213.60" font-size="9.286" font-weight="bold" fill="#000" stroke="#000" stroke-width="0.3" textLength="28.32" lengthAdjust="spacingAndGlyphs"><tspan font-style="italic">P</tspan>&lt;0.05</text>
<line x1="420.30" y1="231.70" x2="451.00" y2="231.70" stroke="#1a1a1a" stroke-width="1.3"/>
<text x="423.40" y="229.00" font-size="8.143" font-weight="bold" fill="#000" stroke="#000" stroke-width="0.3" textLength="24.53" lengthAdjust="spacingAndGlyphs"><tspan font-style="italic">P</tspan>=NS</text>
<text x="412.90" y="372.60" font-size="9.130" font-weight="bold" fill="#000" stroke="#000" stroke-width="0.3" textLength="13.38" lengthAdjust="spacingAndGlyphs">WT</text>
<text x="431.91" y="372.60" font-size="9.130" font-weight="bold" fill="#000" stroke="#000" stroke-width="0.3" textLength="21.53" lengthAdjust="spacingAndGlyphs">TLR4</text>
<text x="453.59" y="370.32" font-size="5.200" font-weight="bold" fill="#000" textLength="4.91" lengthAdjust="spacingAndGlyphs">–/–</text>
<text x="469.60" y="372.40" font-size="8.841" font-weight="bold" fill="#000" stroke="#000" stroke-width="0.3" textLength="13.08" lengthAdjust="spacingAndGlyphs">WT</text>
<text x="487.81" y="372.40" font-size="8.841" font-weight="bold" fill="#000" stroke="#000" stroke-width="0.3" textLength="21.63" lengthAdjust="spacingAndGlyphs">TLR4</text>
<text x="509.52" y="370.68" font-size="5.400" font-weight="bold" fill="#000" textLength="8.47" lengthAdjust="spacingAndGlyphs">–/–</text>
<line x1="415.50" y1="377.50" x2="452.20" y2="377.50" stroke="#111" stroke-width="1.4"/>
<line x1="473.20" y1="377.50" x2="510.50" y2="377.50" stroke="#111" stroke-width="1.4"/>
<text x="423.39" y="387.60" font-size="8.116" font-weight="bold" fill="#000" stroke="#000" stroke-width="0.3" textLength="17.09" lengthAdjust="spacingAndGlyphs">pFn</text>
<text x="482.23" y="387.40" font-size="7.826" font-weight="bold" fill="#000" stroke="#000" stroke-width="0.3" textLength="16.56" lengthAdjust="spacingAndGlyphs">cFn</text>
<text x="81.81" y="417.60" font-size="14.203" font-weight="bold" fill="#000" stroke="#000" stroke-width="0.3" textLength="11.04" lengthAdjust="spacingAndGlyphs">D</text>
<line x1="112.30" y1="435.00" x2="112.30" y2="570.40" stroke="#000" stroke-width="1.7"/>
<line x1="111.50" y1="569.60" x2="237.70" y2="569.60" stroke="#000" stroke-width="1.8"/>
<line x1="109.70" y1="435.80" x2="112.30" y2="435.80" stroke="#000" stroke-width="1.4"/>
<line x1="109.70" y1="469.50" x2="112.30" y2="469.50" stroke="#000" stroke-width="1.4"/>
<line x1="109.70" y1="502.50" x2="112.30" y2="502.50" stroke="#000" stroke-width="1.4"/>
<line x1="109.70" y1="535.90" x2="112.30" y2="535.90" stroke="#000" stroke-width="1.4"/>
<line x1="109.70" y1="569.60" x2="112.30" y2="569.60" stroke="#000" stroke-width="1.4"/>
<text x="98.12" y="438.60" font-size="8.714" font-weight="bold" fill="#000" stroke="#000" stroke-width="0.3" textLength="10.48" lengthAdjust="spacingAndGlyphs">80</text>
<text x="98.37" y="472.40" font-size="9.714" font-weight="bold" fill="#000" stroke="#000" stroke-width="0.3" textLength="10.42" lengthAdjust="spacingAndGlyphs">60</text>
<text x="98.56" y="506.30" font-size="9.714" font-weight="bold" fill="#000" stroke="#000" stroke-width="0.3" textLength="10.23" lengthAdjust="spacingAndGlyphs">40</text>
<text x="98.37" y="539.20" font-size="9.714" font-weight="bold" fill="#000" stroke="#000" stroke-width="0.3" textLength="10.42" lengthAdjust="spacingAndGlyphs">20</text>
<text x="102.20" y="572.10" font-size="9.714" font-weight="bold" fill="#000" stroke="#000" stroke-width="0.3" textLength="5.62" lengthAdjust="spacingAndGlyphs">0</text>
<text transform="translate(91.36,0) rotate(-90)" x="-566.96" y="0" font-size="11.123" font-weight="bold" fill="#000" stroke="#000" stroke-width="0.3" textLength="113.40" lengthAdjust="spacingAndGlyphs">% Platelet aggregation</text>
<rect x="118.00" y="473.80" width="21.00" height="95.80" fill="#000"/>
<line x1="128.50" y1="473.80" x2="128.50" y2="470.50" stroke="#111" stroke-width="1.4"/>
<line x1="123.90" y1="470.50" x2="133.10" y2="470.50" stroke="#111" stroke-width="1.4"/>
<rect x="149.40" y="481.80" width="20.10" height="87.80" fill="#fff" stroke="#111" stroke-width="1.4"/>
<line x1="159.45" y1="481.10" x2="159.45" y2="477.80" stroke="#111" stroke-width="1.4"/>
<line x1="154.65" y1="477.80" x2="164.25" y2="477.80" stroke="#111" stroke-width="1.4"/>
<rect x="180.00" y="461.50" width="21.60" height="108.10" fill="#8f8f8f"/>
<line x1="190.80" y1="461.50" x2="190.80" y2="458.80" stroke="#111" stroke-width="1.4"/>
<line x1="186.00" y1="458.80" x2="195.60" y2="458.80" stroke="#111" stroke-width="1.4"/>
<rect x="216.20" y="476.50" width="20.10" height="93.10" fill="#fff" stroke="#111" stroke-width="1.4"/>
<line x1="226.25" y1="475.80" x2="226.25" y2="472.60" stroke="#111" stroke-width="1.4"/>
<line x1="221.45" y1="472.60" x2="231.05" y2="472.60" stroke="#111" stroke-width="1.4"/>
<text x="168.81" y="428.50" font-size="9.429" font-weight="bold" fill="#000" stroke="#000" stroke-width="0.3" textLength="28.17" lengthAdjust="spacingAndGlyphs"><tspan font-style="italic">P</tspan>=NS</text>
<line x1="128.00" y1="431.50" x2="220.80" y2="431.50" stroke="#1a1a1a" stroke-width="1.3"/>
<text x="146.10" y="443.70" font-size="10.000" font-weight="bold" fill="#000" stroke="#000" stroke-width="0.3" textLength="34.19" lengthAdjust="spacingAndGlyphs"><tspan font-style="italic">P</tspan>&lt;0.05</text>
<line x1="128.00" y1="447.10" x2="188.50" y2="447.10" stroke="#1a1a1a" stroke-width="1.3"/>
<text x="131.33" y="460.80" font-size="9.714" font-weight="bold" fill="#000" stroke="#000" stroke-width="0.3" textLength="27.34" lengthAdjust="spacingAndGlyphs">P=NS</text>
<line x1="128.00" y1="462.40" x2="158.90" y2="462.40" stroke="#1a1a1a" stroke-width="1.3"/>
<text x="191.61" y="452.40" font-size="10.571" font-weight="bold" fill="#000" stroke="#000" stroke-width="0.3" textLength="34.08" lengthAdjust="spacingAndGlyphs"><tspan font-style="italic">P</tspan>&lt;0.05</text>
<line x1="192.00" y1="454.70" x2="220.30" y2="454.70" stroke="#1a1a1a" stroke-width="1.3"/>
<text x="113.21" y="581.30" font-size="8.696" font-weight="bold" fill="#000" stroke="#000" stroke-width="0.3" textLength="21.73" lengthAdjust="spacingAndGlyphs">TLR4</text>
<text x="135.08" y="578.48" font-size="5.400" font-weight="bold" fill="#000" textLength="7.84" lengthAdjust="spacingAndGlyphs">+/+</text>
<text x="149.31" y="581.30" font-size="8.696" font-weight="bold" fill="#000" stroke="#000" stroke-width="0.3" textLength="21.73" lengthAdjust="spacingAndGlyphs">TLR4</text>
<text x="171.27" y="578.48" font-size="5.400" font-weight="bold" fill="#000" textLength="6.17" lengthAdjust="spacingAndGlyphs">–/–</text>
<text x="181.41" y="581.00" font-size="8.696" font-weight="bold" fill="#000" stroke="#000" stroke-width="0.3" textLength="21.73" lengthAdjust="spacingAndGlyphs">TLR4</text>
<text x="203.29" y="578.18" font-size="5.400" font-weight="bold" fill="#000" textLength="7.73" lengthAdjust="spacingAndGlyphs">+/+</text>
<text x="218.22" y="581.00" font-size="8.696" font-weight="bold" fill="#000" stroke="#000" stroke-width="0.3" textLength="21.03" lengthAdjust="spacingAndGlyphs">TLR4</text>
<text x="239.43" y="578.18" font-size="5.400" font-weight="bold" fill="#000" textLength="7.84" lengthAdjust="spacingAndGlyphs">–/–</text>
<line x1="110.70" y1="588.20" x2="173.00" y2="588.20" stroke="#111" stroke-width="1.4"/>
<line x1="180.50" y1="588.10" x2="242.50" y2="588.10" stroke="#111" stroke-width="1.4"/>
<text x="121.22" y="597.50" font-size="9.130" font-weight="bold" fill="#000" stroke="#000" stroke-width="0.3" textLength="32.51" lengthAdjust="spacingAndGlyphs">Fn-EDA</text>
<text x="153.64" y="595.38" font-size="5.400" font-weight="bold" fill="#000" textLength="7.42" lengthAdjust="spacingAndGlyphs">–/–</text>
<text x="192.01" y="597.60" font-size="9.420" font-weight="bold" fill="#000" stroke="#000" stroke-width="0.3" textLength="33.02" lengthAdjust="spacingAndGlyphs">Fn-EDA</text>
<text x="224.88" y="595.38" font-size="5.400" font-weight="bold" fill="#000" textLength="8.05" lengthAdjust="spacingAndGlyphs">+/+</text>
<text x="151.84" y="617.10" font-size="10.290" font-weight="bold" fill="#000" stroke="#000" stroke-width="0.3" textLength="46.28" lengthAdjust="spacingAndGlyphs">ADP 4μM</text>
<line x1="280.00" y1="435.00" x2="280.00" y2="570.40" stroke="#000" stroke-width="1.7"/>
<line x1="279.20" y1="569.60" x2="415.00" y2="569.60" stroke="#000" stroke-width="1.8"/>
<line x1="277.40" y1="435.80" x2="280.00" y2="435.80" stroke="#000" stroke-width="1.4"/>
<line x1="277.40" y1="469.50" x2="280.00" y2="469.50" stroke="#000" stroke-width="1.4"/>
<line x1="277.40" y1="502.50" x2="280.00" y2="502.50" stroke="#000" stroke-width="1.4"/>
<line x1="277.40" y1="535.90" x2="280.00" y2="535.90" stroke="#000" stroke-width="1.4"/>
<line x1="277.40" y1="569.60" x2="280.00" y2="569.60" stroke="#000" stroke-width="1.4"/>
<text x="265.14" y="438.90" font-size="7.714" font-weight="bold" fill="#000" stroke="#000" stroke-width="0.3" textLength="9.52" lengthAdjust="spacingAndGlyphs">80</text>
<text x="265.27" y="472.40" font-size="9.714" font-weight="bold" fill="#000" stroke="#000" stroke-width="0.3" textLength="10.42" lengthAdjust="spacingAndGlyphs">60</text>
<text x="265.46" y="506.30" font-size="9.714" font-weight="bold" fill="#000" stroke="#000" stroke-width="0.3" textLength="10.23" lengthAdjust="spacingAndGlyphs">40</text>
<text x="265.27" y="539.20" font-size="9.714" font-weight="bold" fill="#000" stroke="#000" stroke-width="0.3" textLength="10.42" lengthAdjust="spacingAndGlyphs">20</text>
<text x="269.60" y="572.10" font-size="9.714" font-weight="bold" fill="#000" stroke="#000" stroke-width="0.3" textLength="5.62" lengthAdjust="spacingAndGlyphs">0</text>
<text transform="translate(259.82,0) rotate(-90)" x="-559.66" y="0" font-size="10.374" font-weight="bold" fill="#000" stroke="#000" stroke-width="0.3" textLength="112.89" lengthAdjust="spacingAndGlyphs">% Platelet aggregation</text>
<rect x="285.80" y="461.90" width="20.70" height="107.70" fill="#000"/>
<line x1="296.15" y1="461.90" x2="296.15" y2="458.50" stroke="#111" stroke-width="1.4"/>
<line x1="291.15" y1="458.50" x2="301.15" y2="458.50" stroke="#111" stroke-width="1.4"/>
<rect x="317.40" y="467.50" width="19.90" height="102.10" fill="#fff" stroke="#111" stroke-width="1.4"/>
<line x1="327.35" y1="466.80" x2="327.35" y2="462.70" stroke="#111" stroke-width="1.4"/>
<line x1="322.55" y1="462.70" x2="332.15" y2="462.70" stroke="#111" stroke-width="1.4"/>
<rect x="353.10" y="447.30" width="20.60" height="122.30" fill="#8f8f8f"/>
<line x1="363.40" y1="447.30" x2="363.40" y2="445.00" stroke="#111" stroke-width="1.4"/>
<line x1="358.40" y1="445.00" x2="368.40" y2="445.00" stroke="#111" stroke-width="1.4"/>
<rect x="386.50" y="467.50" width="20.10" height="102.10" fill="#fff" stroke="#111" stroke-width="1.4"/>
<line x1="396.55" y1="466.80" x2="396.55" y2="463.40" stroke="#111" stroke-width="1.4"/>
<line x1="391.55" y1="463.40" x2="401.55" y2="463.40" stroke="#111" stroke-width="1.4"/>
<text x="337.72" y="418.50" font-size="9.429" font-weight="bold" fill="#000" stroke="#000" stroke-width="0.3" textLength="27.65" lengthAdjust="spacingAndGlyphs"><tspan font-style="italic">P</tspan>=NS</text>
<line x1="298.90" y1="422.70" x2="391.60" y2="422.70" stroke="#1a1a1a" stroke-width="1.3"/>
<text x="311.31" y="432.40" font-size="9.429" font-weight="bold" fill="#000" stroke="#000" stroke-width="0.3" textLength="33.98" lengthAdjust="spacingAndGlyphs"><tspan font-style="italic">P</tspan>&lt;0.05</text>
<line x1="297.10" y1="435.80" x2="356.50" y2="435.80" stroke="#1a1a1a" stroke-width="1.3"/>
<text x="299.81" y="446.80" font-size="9.571" font-weight="bold" fill="#000" stroke="#000" stroke-width="0.3" textLength="27.96" lengthAdjust="spacingAndGlyphs"><tspan font-style="italic">P</tspan>=NS</text>
<line x1="297.10" y1="449.30" x2="327.40" y2="449.30" stroke="#1a1a1a" stroke-width="1.3"/>
<text x="366.90" y="438.80" font-size="9.857" font-weight="bold" fill="#000" stroke="#000" stroke-width="0.3" textLength="34.60" lengthAdjust="spacingAndGlyphs"><tspan font-style="italic">P</tspan>&lt;0.05</text>
<line x1="368.10" y1="441.90" x2="397.80" y2="441.90" stroke="#1a1a1a" stroke-width="1.3"/>
<text x="282.41" y="582.20" font-size="9.565" font-weight="bold" fill="#000" stroke="#000" stroke-width="0.3" textLength="21.43" lengthAdjust="spacingAndGlyphs">TLR4</text>
<text x="303.95" y="578.78" font-size="5.400" font-weight="bold" fill="#000" textLength="9.11" lengthAdjust="spacingAndGlyphs">+/+</text>
<text x="318.22" y="582.20" font-size="9.565" font-weight="bold" fill="#000" stroke="#000" stroke-width="0.3" textLength="21.03" lengthAdjust="spacingAndGlyphs">TLR4</text>
<text x="339.43" y="578.78" font-size="5.400" font-weight="bold" fill="#000" textLength="7.84" lengthAdjust="spacingAndGlyphs">–/–</text>
<text x="353.41" y="582.20" font-size="9.855" font-weight="bold" fill="#000" stroke="#000" stroke-width="0.3" textLength="21.63" lengthAdjust="spacingAndGlyphs">TLR4</text>
<text x="375.19" y="578.58" font-size="5.400" font-weight="bold" fill="#000" textLength="7.73" lengthAdjust="spacingAndGlyphs">+/+</text>
<text x="389.51" y="582.20" font-size="9.855" font-weight="bold" fill="#000" stroke="#000" stroke-width="0.3" textLength="21.73" lengthAdjust="spacingAndGlyphs">TLR4</text>
<text x="411.44" y="578.58" font-size="5.400" font-weight="bold" fill="#000" textLength="7.53" lengthAdjust="spacingAndGlyphs">–/–</text>
<line x1="281.50" y1="588.10" x2="345.00" y2="588.10" stroke="#111" stroke-width="1.4"/>
<line x1="352.40" y1="588.00" x2="414.50" y2="588.00" stroke="#111" stroke-width="1.4"/>
<text x="288.51" y="597.80" font-size="8.696" font-weight="bold" fill="#000" stroke="#000" stroke-width="0.3" textLength="33.12" lengthAdjust="spacingAndGlyphs">Fn-EDA</text>
<text x="321.53" y="595.78" font-size="5.400" font-weight="bold" fill="#000" textLength="7.73" lengthAdjust="spacingAndGlyphs">–/–</text>
<text x="365.91" y="597.70" font-size="8.986" font-weight="bold" fill="#000" stroke="#000" stroke-width="0.3" textLength="33.12" lengthAdjust="spacingAndGlyphs">Fn-EDA</text>
<text x="398.87" y="595.58" font-size="5.400" font-weight="bold" fill="#000" textLength="8.16" lengthAdjust="spacingAndGlyphs">+/+</text>
<text x="307.38" y="617.00" font-size="9.931" font-weight="bold" fill="#000" stroke="#000" stroke-width="0.3" textLength="80.34" lengthAdjust="spacingAndGlyphs">Collagen 5μg/ml</text>
</svg>
</body></html>
